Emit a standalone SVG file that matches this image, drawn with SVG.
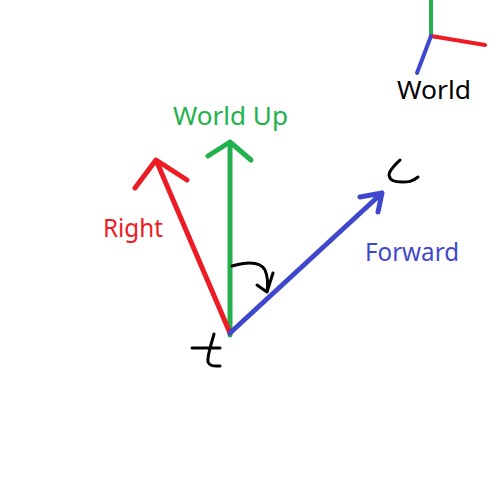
<svg xmlns="http://www.w3.org/2000/svg" width="490" height="481" viewBox="0 0 490 481">
<style>
.ax{fill:none;stroke-width:5;stroke-linecap:round;stroke-linejoin:round}
.sm{fill:none;stroke-width:4;stroke-linecap:round}
.hand{fill:none;stroke:#000;stroke-width:3;stroke-linecap:round;stroke-linejoin:round}
.r{stroke:#ED1C24}.g{stroke:#22B14C}.b{stroke:#3F48CC}
text{font-family:"Noto Sans","Open Sans",sans-serif;font-size:25px}
</style>
<rect width="490" height="481" fill="#fff"/>
<g id="connectors">
<path class="ax g" d="M230,335 L230,142 M208,156 L230,142 L251,160"/>
<path class="ax r" d="M230,333 L156,160 M135,188 L156,160 L187,180"/>
<path class="ax b" d="M230,333 L382,193 M360,197 L382,193 L378,212"/>
<path class="hand" d="M232,266 C246,262 260,261 265,270 C268,277 268,285 267,292 M257,285 L267,292 L273,273"/>
</g>
<g id="world-axes">
<path class="sm g" d="M431,36 L431,0"/>
<path class="sm r" d="M431,36 L485,45"/>
<path class="sm b" d="M431,36 L417,73"/>
<text x="397" y="99" textLength="74" lengthAdjust="spacingAndGlyphs" fill="#000">World</text>
</g>
<g id="world-up-label"><text x="173" y="125" textLength="115" lengthAdjust="spacingAndGlyphs" fill="#22B14C">World Up</text></g>
<g id="right-label"><text x="103" y="237" textLength="60" lengthAdjust="spacingAndGlyphs" fill="#ED1C24">Right</text></g>
<g id="forward-label"><text x="365" y="261" textLength="94" lengthAdjust="spacingAndGlyphs" fill="#3F48CC">Forward</text></g>
<g id="t-mark"><path class="hand" d="M214,334 C211,345 207,356 208,362 C210,367 215,366 220,366 M192,348 L220,348"/></g>
<g id="u-mark"><path class="hand" d="M400,160 C395,165 389,170 389,175 C390,181 395,182 402,182 C408,182 412,182 418,177"/></g>
</svg>
